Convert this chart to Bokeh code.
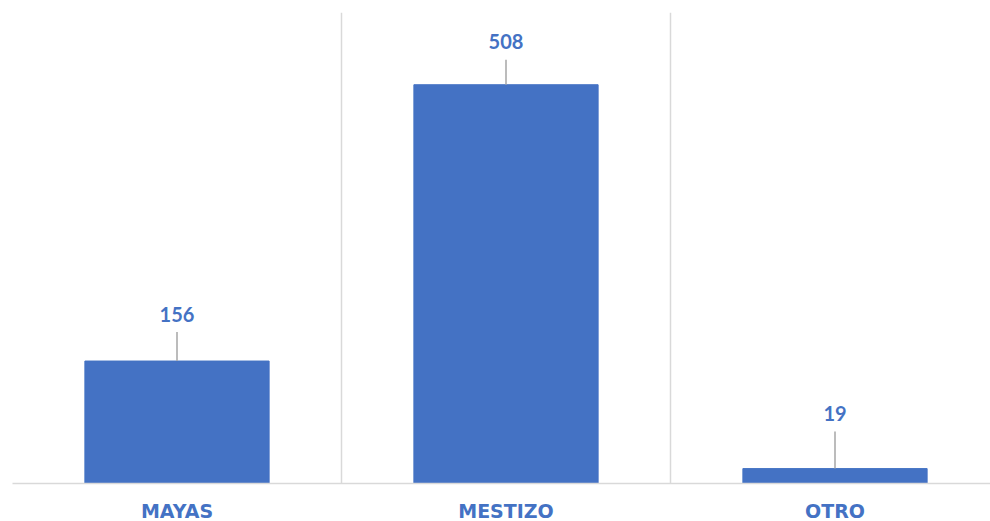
from bokeh.plotting import figure
from bokeh.models import FixedTicker, ColumnDataSource, Range1d
from bokeh.core.properties import value
from bokeh.embed import file_html
from bokeh.resources import INLINE

categories = ["MAYAS", "MESTIZO", "OTRO"]
counts = [156, 508, 19]
value_labels = ["156", "508", "19"]

# styling
BLUE = "#4472C4"
GRID = "#D9D9D9"
LEADER = "#A6A6A6"
Y_MAX = 600
FRAME_W = 978
FRAME_H = 471
label_offsets_px = [47, 43, 55]   # label centre above bar top (pixels)
leader_gap_px = 18                # leader starts this far below label centre

px_per_unit = FRAME_H / Y_MAX
x_end = FRAME_W / 329.0

xs = [i + 0.5 for i in range(len(categories))]
label_y = [c + off / px_per_unit for c, off in zip(counts, label_offsets_px)]
leader_top = [c + (off - leader_gap_px) / px_per_unit for c, off in zip(counts, label_offsets_px)]

src = ColumnDataSource(dict(x=xs, top=counts, label=value_labels, ly=label_y, lt=leader_top))

p = figure(frame_width=FRAME_W, frame_height=FRAME_H, output_backend="svg", toolbar_location=None,
           x_range=Range1d(0, x_end), y_range=Range1d(0, Y_MAX),
           min_border_left=12, min_border_right=0, min_border_top=12, min_border_bottom=30)
p.outline_line_color = None
p.background_fill_color = "white"
p.border_fill_color = "white"

p.vbar(x="x", top="top", width=0.56, bottom=0, source=src, fill_color=BLUE, line_color=BLUE)
p.segment(x0="x", y0="top", x1="x", y1="lt", source=src, line_color=LEADER, line_width=1.5)
p.text(x="x", y="ly", text="label", source=src, text_align="center", text_baseline="middle",
       text_color=BLUE, text_font=value("Lato"), text_font_style="bold", text_font_size="20px")

p.yaxis.visible = False
p.ygrid.visible = False
p.xgrid.ticker = FixedTicker(ticks=[0, 1, 2, 3])
p.xgrid.grid_line_color = GRID
p.xgrid.grid_line_width = 1.5

p.xaxis.ticker = FixedTicker(ticks=xs)
p.xaxis.major_label_overrides = {x: c for x, c in zip(xs, categories)}
p.xaxis.axis_line_color = GRID
p.xaxis.axis_line_width = 1.5
p.xaxis.major_tick_line_color = None
p.xaxis.minor_tick_line_color = None
p.xaxis.major_tick_out = 0
p.xaxis.major_tick_in = 0
p.xaxis.major_label_standoff = 16
p.xaxis.major_label_text_color = BLUE
p.xaxis.major_label_text_font = "DejaVu Sans"
p.xaxis.major_label_text_font_style = "bold"
p.xaxis.major_label_text_font_size = "19px"

open("out.html", "w").write(file_html(p, INLINE))
